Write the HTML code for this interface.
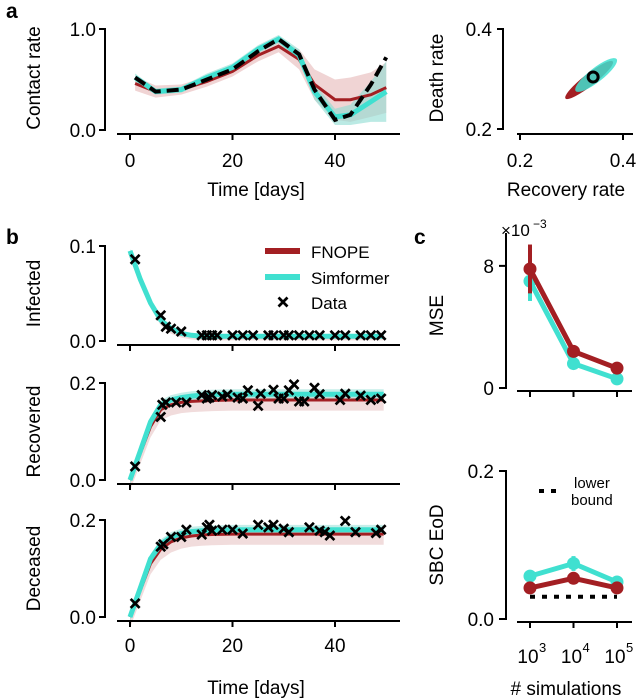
<!DOCTYPE html>
<html><head><meta charset="utf-8"><style>
body{margin:0;background:#fff;}
svg{display:block;font-family:"Liberation Sans",Arial,sans-serif;}
text{fill:#000;}
</style></head><body>
<svg id="fig" width="640" height="700" viewBox="0 0 640 700"></svg>
<script>
// ---------- DATA ----------
const contactT = [1,5,10,15,20,25,29,33,36,40,43,47,50];
const contactTrue = [0.52,0.38,0.40,0.50,0.60,0.78,0.90,0.75,0.40,0.10,0.15,0.45,0.72];
const contactFnope = [0.46,0.38,0.40,0.48,0.58,0.74,0.83,0.70,0.45,0.30,0.30,0.35,0.42];
const contactFnopeBand = [0.07,0.06,0.05,0.05,0.05,0.06,0.06,0.10,0.15,0.20,0.22,0.22,0.25];
const contactSim = [0.52,0.38,0.40,0.52,0.62,0.80,0.90,0.74,0.38,0.13,0.15,0.28,0.38];
const contactSimBand = [0.04,0.03,0.03,0.04,0.04,0.04,0.04,0.06,0.08,0.08,0.10,0.20,0.30];
const postRecovery = 0.342, postDeath = 0.304;
const sirT = [0,2,4,6,8,10,12,14,16,20,25,30,40,49.5];
const infSim = [0.095,0.065,0.04,0.022,0.013,0.008,0.006,0.005,0.005,0.005,0.005,0.005,0.005,0.005];
const infFnope = [0.092,0.063,0.039,0.021,0.012,0.008,0.006,0.005,0.005,0.005,0.005,0.005,0.005,0.005];
const recSim = [0.0,0.06,0.12,0.155,0.165,0.170,0.173,0.175,0.176,0.177,0.177,0.177,0.177,0.177];
const recFnope = [0.0,0.055,0.11,0.145,0.155,0.160,0.162,0.163,0.164,0.165,0.165,0.165,0.165,0.165];
const decSim = [0.0,0.06,0.12,0.150,0.165,0.172,0.176,0.178,0.179,0.180,0.180,0.180,0.180,0.180];
const decFnope = [0.0,0.055,0.11,0.140,0.155,0.163,0.167,0.169,0.170,0.171,0.171,0.171,0.171,0.171];
const infDataT = [1,6,7,8,10,14,15,16,17,20,22,24,27,28,30,31,33,35,37,40,42,45,47,49];
const infDataV = [0.086,0.027,0.015,0.013,0.010,0.006,0.006,0.006,0.006,0.006,0.006,0.006,0.006,0.006,0.006,0.006,0.006,0.006,0.006,0.006,0.006,0.006,0.006,0.006];
const recDataT = [1,6,6.3,7,9,11,14,15,15.5,16,18,19,21,22,23,25,25.5,28,29,30,31,32,33,34,36,37,41,42,45,47,49];
const recDataV = [0.028,0.13,0.155,0.16,0.16,0.16,0.175,0.168,0.17,0.175,0.172,0.176,0.17,0.168,0.185,0.153,0.178,0.186,0.168,0.168,0.185,0.197,0.162,0.162,0.19,0.177,0.165,0.178,0.174,0.165,0.168];
const decDataT = [1,6,6.5,8,10,11,14,15,15.5,16,18,20,22,25,27,28,30,31,35,37,38,39,42,44,48,49];
const decDataV = [0.028,0.145,0.15,0.165,0.165,0.18,0.17,0.185,0.19,0.178,0.18,0.18,0.172,0.19,0.185,0.19,0.182,0.175,0.185,0.178,0.175,0.168,0.198,0.175,0.173,0.18];
const simCats = [3,4,5];
const mseFnope = [7.8,2.4,1.3];
const mseFnopeErr = [1.6,0.3,0.2];
const mseSim = [7.0,1.6,0.6];
const mseSimErr = [1.3,0.2,0.15];
const sbcFnope = [0.042,0.055,0.042];
const sbcSim = [0.058,0.075,0.05];
const sbcSimErr = [0.002,0.01,0.003];
const lowerBound = 0.03;
const tTicks = [0,20,40];

// ---------- HELPERS ----------
const svg = document.getElementById('fig');
const NS = 'http://www.w3.org/2000/svg';
const FS = 19;
function el(tag, attrs, parent){const e=document.createElementNS(NS,tag);for(const k in attrs)e.setAttribute(k,attrs[k]);(parent||svg).appendChild(e);return e;}
function txt(x,y,s,size,anchor,extra){const t=el('text',Object.assign({x:x,y:y,'font-size':size,'text-anchor':anchor||'middle'},extra||{}));t.textContent=s;return t;}
function lin(d0,d1,r0,r1){return v=>r0+(v-d0)/(d1-d0)*(r1-r0);}
function pathOf(xs,ys,X,Y){return xs.map((v,i)=>(i?'L':'M')+X(v).toFixed(1)+','+Y(ys[i]).toFixed(1)).join('');}
function bandOf(xs,ys,w,X,Y){let up=xs.map((v,i)=>(i?'L':'M')+X(v)+','+Y(ys[i]+w[i]));let dn=xs.slice().reverse().map((v,j)=>{const i=xs.length-1-j;return 'L'+X(v)+','+Y(ys[i]-w[i]);});return up.join('')+dn.join('')+'Z';}
function cross(x,y,g){el('path',{d:`M${x-4.5},${y-4.5}L${x+4.5},${y+4.5}M${x-4.5},${y+4.5}L${x+4.5},${y-4.5}`,stroke:'#000','stroke-width':2.7},g);}
const RED='#a31f23', CYAN='#40e0d0';

// ---------- PANEL LABELS ----------
txt(6,18,'a',21,'start',{'font-weight':'bold',});
txt(6,244,'b',21,'start',{'font-weight':'bold',});
txt(414,244,'c',21,'start',{'font-weight':'bold',});

// ---------- PANEL A LEFT ----------
{
const g=el('g',{});


const X=lin(0,40,130,335), Y=lin(0,1,130,29);
el('path',{d:bandOf(contactT,contactFnope,contactFnopeBand,X,Y),fill:'#e6b8b8',opacity:0.6},g);
el('path',{d:bandOf(contactT,contactSim,contactSimBand,X,Y),fill:'#8edcd2',opacity:0.6},g);
el('path',{d:pathOf(contactT,contactFnope,X,Y),fill:'none',stroke:RED,'stroke-width':3},g);
el('path',{d:pathOf(contactT,contactSim,X,Y),fill:'none',stroke:CYAN,'stroke-width':5},g);
const tl=el('path',{d:pathOf(contactT,contactTrue,X,Y),fill:'none',stroke:'#000','stroke-width':4,'stroke-dasharray':'12,6'},g);


el('path',{d:'M99,29H105V130H99',fill:'none',stroke:'#000','stroke-width':2},g);
txt(96,36,'1.0',FS,'end');txt(96,137,'0.0',FS,'end');
el('line',{x1:117,x2:400,y1:134,y2:134,stroke:'#000','stroke-width':2},g);
tTicks.forEach(t=>{el('line',{x1:X(t),x2:X(t),y1:134,y2:140,stroke:'#000','stroke-width':2},g);txt(X(t),167,String(t),FS);});
txt(256,196,'Time [days]',FS);
txt(0,0,'Contact rate',FS,'middle',{transform:'translate(40,78) rotate(-90)'});
}
// ---------- PANEL A RIGHT ----------
{
const g=el('g',{});


const X=lin(0.2,0.4,520,623), Y=lin(0.2,0.4,129,29);
const cx=X(postRecovery), cy=Y(postDeath);
el('ellipse',{cx:cx-4,cy:cy+3,rx:30,ry:6,fill:RED,transform:`rotate(-38 ${cx-4} ${cy+3})`},g);
el('ellipse',{cx:cx+3,cy:cy-2,rx:26,ry:7,fill:CYAN,opacity:0.85,transform:`rotate(-38 ${cx+3} ${cy-2})`},g);
el('circle',{cx:cx,cy:cy,r:5,fill:'none',stroke:'#000','stroke-width':3},g);
el('path',{d:'M497,29H503V129H497',fill:'none',stroke:'#000','stroke-width':2},g);
txt(492,36,'0.4',FS,'end');txt(492,136,'0.2',FS,'end');
el('line',{x1:517,x2:633,y1:134,y2:134,stroke:'#000','stroke-width':2},g);
[0.2,0.4].forEach(v=>{el('line',{x1:X(v),x2:X(v),y1:134,y2:140,stroke:'#000','stroke-width':2},g);txt(X(v),167,v.toFixed(1),FS);});
txt(566,196,'Recovery rate',FS);
txt(0,0,'Death rate',FS,'middle',{transform:'translate(443,78) rotate(-90)'});
}
// ---------- PANEL B ----------
function sirPanel(name,top0,bot0,ymax,label,simY,fnY,dT,dV,bw,showX){
const g=el('g',{});


const X=lin(0,40,130,335), Y=lin(0,ymax,bot0,top0);
const bandF=simY.map(()=>bw*1.6), bandS=simY.map(()=>bw);
el('path',{d:bandOf(sirT,fnY.map(v=>v-bw*0.6),bandF,X,Y),fill:'#e8c4c4',opacity:0.6},g);
el('path',{d:bandOf(sirT,simY,bandS,X,Y),fill:'#9fe3da',opacity:0.6},g);
el('path',{d:pathOf(sirT,fnY,X,Y),fill:'none',stroke:RED,'stroke-width':3},g);
el('path',{d:pathOf(sirT,simY,X,Y),fill:'none',stroke:CYAN,'stroke-width':5},g);
dT.forEach((t,i)=>cross(X(t),Y(dV[i]),g));
el('path',{d:`M99,${top0}H105V${bot0}H99`,fill:'none',stroke:'#000','stroke-width':2},g);
txt(96,top0+7,ymax.toFixed(1),FS,'end');txt(96,bot0+7,'0.0',FS,'end');
el('line',{x1:117,x2:400,y1:bot0+4,y2:bot0+4,stroke:'#000','stroke-width':2},g);
tTicks.forEach(t=>{el('line',{x1:X(t),x2:X(t),y1:bot0+4,y2:bot0+10,stroke:'#000','stroke-width':2},g);if(showX)txt(X(t),bot0+35,String(t),FS);});
txt(0,0,label,FS,'middle',{transform:`translate(40,${(top0+bot0)/2}) rotate(-90)`});
}
sirPanel('infected-chart',246,341,0.1,'Infected',infSim,infFnope,infDataT,infDataV,0.002,false);
sirPanel('recovered-chart',383,480,0.2,'Recovered',recSim,recFnope,recDataT,recDataV,0.01,false);
sirPanel('deceased-chart',520,617,0.2,'Deceased',decSim,decFnope,decDataT,decDataV,0.01,true);
txt(256,694,'Time [days]',FS);
// legend
{
const g=el('g',{});


el('line',{x1:265,x2:300,y1:251,y2:251,stroke:RED,'stroke-width':6},g);txt(311,258,'FNOPE',17,'start');
el('line',{x1:265,x2:300,y1:277,y2:277,stroke:CYAN,'stroke-width':6},g);txt(311,284,'Simformer',17,'start');
cross(283,302,g);txt(311,309,'Data',17,'start');
}
// ---------- PANEL C ----------
function cPanel(name,top0,bot0,yTop,yTopLabel,zeroLabel,label,fn,fnE,sm,smE,lb,showX){
const g=el('g',{});


const X=lin(3,5,530,617), Y=lin(0,yTop,bot0,top0);
[[sm,smE,CYAN],[fn,fnE,RED]].forEach(([v,e,c])=>{
 el('path',{d:pathOf(simCats,v,X,Y),fill:'none',stroke:c,'stroke-width':5},g);
 simCats.forEach((s,i)=>{el('line',{x1:X(s),x2:X(s),y1:Y(v[i]-e[i]),y2:Y(v[i]+e[i]),stroke:c,'stroke-width':4},g);
  el('circle',{cx:X(s),cy:Y(v[i]),r:6,fill:c,stroke:c,'stroke-width':1},g);});
});
if(lb!==null){el('line',{x1:X(3),x2:X(5),y1:Y(lb),y2:Y(lb),stroke:'#000','stroke-width':4,'stroke-dasharray':'5,7'},g);
 el('line',{x1:539,x2:556,y1:491,y2:491,stroke:'#000','stroke-width':4,'stroke-dasharray':'5,7'},g);
 txt(574,488,'lower',15,'start');txt(571,505,'bound',15,'start');}
el('path',{d:`M499,${Y(yTopLabel)}H506V${bot0}H499`,fill:'none',stroke:'#000','stroke-width':2},g);
if(lb===null) el('line',{x1:506,x2:506,y1:top0-10,y2:bot0,stroke:'#000','stroke-width':2},g);
txt(494,Y(yTopLabel)+7,String(yTopLabel===8?'8':yTopLabel.toFixed(1)),FS,'end');txt(494,bot0+7,zeroLabel,FS,'end');
el('line',{x1:517,x2:632,y1:bot0+3,y2:bot0+3,stroke:'#000','stroke-width':2},g);
simCats.forEach(s=>{el('line',{x1:X(s),x2:X(s),y1:bot0+3,y2:bot0+9,stroke:'#000','stroke-width':2},g);
 if(showX){txt(X(s)-2,bot0+44,'10',FS);const sp=el('text',{x:X(s)+9,y:bot0+33,'font-size':13,'text-anchor':'start'},g);sp.textContent=String(s);}});
txt(0,0,label,FS,'middle',{transform:`translate(443,${(top0+bot0)/2}) rotate(-90)`});
}
cPanel('mse-chart',243,388,9.5,8,'0','MSE',mseFnope,mseFnopeErr,mseSim,mseSimErr,null,false);
txt(501,236,'×10',17,'start');txt(533,228,'−3',12,'start');
cPanel('sbc-chart',471,619,0.2,0.2,'0.0','SBC EoD',sbcFnope,sbcFnope.map(()=>0.003),sbcSim,sbcSimErr,lowerBound,true);
txt(566,695,'# simulations',FS);
</script>
</body></html>
